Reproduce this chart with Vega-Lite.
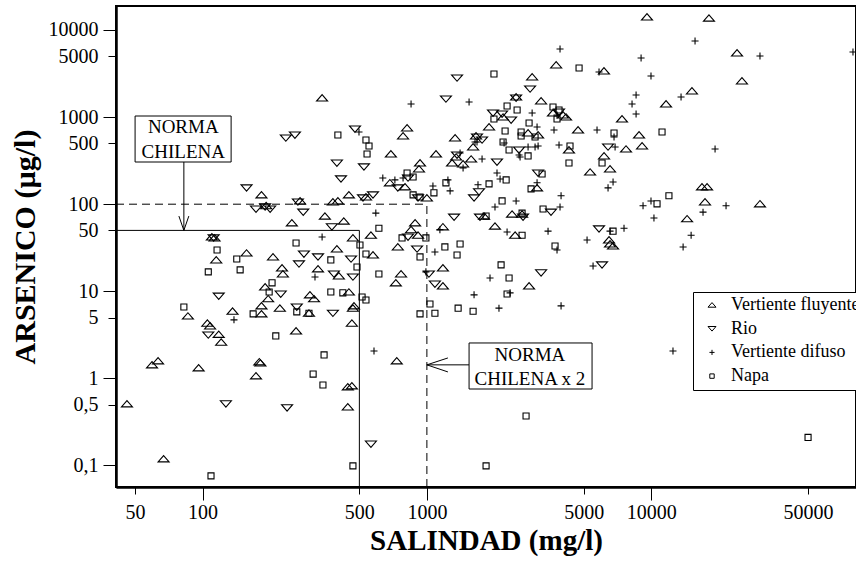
{
  "$schema": "https://vega.github.io/schema/vega-lite/v6.json",
  "width": 740,
  "height": 481,
  "autosize": {"type": "none"},
  "padding": {"left": 116, "top": 6, "right": 0, "bottom": 79},
  "background": "white",
  "config": {
    "view": {"stroke": "black", "strokeWidth": 2},
    "axis": {"grid": false, "domainColor": "black", "domainWidth": 2, "tickColor": "black", "tickWidth": 1, "labelColor": "black", "labelFont": "Liberation Serif", "labelFontSize": 20, "titleFont": "Liberation Serif", "titleFontWeight": "bold", "titleColor": "black", "labelOverlap": false, "labelFlush": false}
  },
  "datasets": {
    "puntos": [
      {"tipo":"Vertiente fluyente","salinidad":183,"arsenico":128},{"tipo":"Vertiente fluyente","salinidad":272,"arsenico":109},{"tipo":"Vertiente fluyente","salinidad":449,"arsenico":128},{"tipo":"Vertiente fluyente","salinidad":381,"arsenico":106},{"tipo":"Vertiente fluyente","salinidad":401,"arsenico":109},{"tipo":"Vertiente fluyente","salinidad":535,"arsenico":121},{"tipo":"Vertiente fluyente","salinidad":192,"arsenico":96},{"tipo":"Vertiente fluyente","salinidad":250,"arsenico":61},{"tipo":"Vertiente fluyente","salinidad":351,"arsenico":73},{"tipo":"Vertiente fluyente","salinidad":426,"arsenico":64},
      {"tipo":"Vertiente fluyente","salinidad":468,"arsenico":41},{"tipo":"Vertiente fluyente","salinidad":563,"arsenico":44},{"tipo":"Vertiente fluyente","salinidad":110,"arsenico":42},{"tipo":"Vertiente fluyente","salinidad":113,"arsenico":41},{"tipo":"Vertiente fluyente","salinidad":157,"arsenico":27.5},{"tipo":"Vertiente fluyente","salinidad":115,"arsenico":22.9},{"tipo":"Vertiente fluyente","salinidad":206,"arsenico":24.8},{"tipo":"Vertiente fluyente","salinidad":397,"arsenico":30.6},{"tipo":"Vertiente fluyente","salinidad":575,"arsenico":26.1},{"tipo":"Vertiente fluyente","salinidad":226,"arsenico":18.5},
      {"tipo":"Vertiente fluyente","salinidad":228,"arsenico":15.8},{"tipo":"Vertiente fluyente","salinidad":327,"arsenico":18.1},{"tipo":"Vertiente fluyente","salinidad":405,"arsenico":15},{"tipo":"Vertiente fluyente","salinidad":190,"arsenico":11.2},{"tipo":"Vertiente fluyente","salinidad":196,"arsenico":8.2},{"tipo":"Vertiente fluyente","salinidad":301,"arsenico":9.1},{"tipo":"Vertiente fluyente","salinidad":314,"arsenico":8.2},{"tipo":"Vertiente fluyente","salinidad":449,"arsenico":9.8},{"tipo":"Vertiente fluyente","salinidad":183,"arsenico":6.8},{"tipo":"Vertiente fluyente","salinidad":221,"arsenico":6.4},
      {"tipo":"Vertiente fluyente","salinidad":298,"arsenico":5.6},{"tipo":"Vertiente fluyente","salinidad":468,"arsenico":6.4},{"tipo":"Vertiente fluyente","salinidad":473,"arsenico":6.8},{"tipo":"Vertiente fluyente","salinidad":86,"arsenico":5.2},{"tipo":"Vertiente fluyente","salinidad":136,"arsenico":5.9},{"tipo":"Vertiente fluyente","salinidad":183,"arsenico":5.5},{"tipo":"Vertiente fluyente","salinidad":105,"arsenico":4.3},{"tipo":"Vertiente fluyente","salinidad":108,"arsenico":4},{"tipo":"Vertiente fluyente","salinidad":118,"arsenico":3.2},{"tipo":"Vertiente fluyente","salinidad":121,"arsenico":2.6},
      {"tipo":"Vertiente fluyente","salinidad":463,"arsenico":4.3},{"tipo":"Vertiente fluyente","salinidad":261,"arsenico":3.5},{"tipo":"Vertiente fluyente","salinidad":59.5,"arsenico":1.43},{"tipo":"Vertiente fluyente","salinidad":63.3,"arsenico":1.59},{"tipo":"Vertiente fluyente","salinidad":96,"arsenico":1.32},{"tipo":"Vertiente fluyente","salinidad":179,"arsenico":1.55},{"tipo":"Vertiente fluyente","salinidad":181,"arsenico":1.5},{"tipo":"Vertiente fluyente","salinidad":173,"arsenico":1.07},{"tipo":"Vertiente fluyente","salinidad":46,"arsenico":0.51},{"tipo":"Vertiente fluyente","salinidad":67,"arsenico":0.119},
      {"tipo":"Vertiente fluyente","salinidad":742,"arsenico":32.3},{"tipo":"Vertiente fluyente","salinidad":767,"arsenico":15.8},{"tipo":"Vertiente fluyente","salinidad":727,"arsenico":12.5},{"tipo":"Vertiente fluyente","salinidad":1179,"arsenico":18.5},{"tipo":"Vertiente fluyente","salinidad":1179,"arsenico":11.5},{"tipo":"Vertiente fluyente","salinidad":2855,"arsenico":11.5},{"tipo":"Vertiente fluyente","salinidad":734,"arsenico":1.59},{"tipo":"Vertiente fluyente","salinidad":444,"arsenico":0.8},{"tipo":"Vertiente fluyente","salinidad":463,"arsenico":0.82},{"tipo":"Vertiente fluyente","salinidad":444,"arsenico":0.47},
      {"tipo":"Vertiente fluyente","salinidad":6555,"arsenico":34.9},{"tipo":"Vertiente fluyente","salinidad":3770,"arsenico":3965},{"tipo":"Vertiente fluyente","salinidad":2946,"arsenico":2888},{"tipo":"Vertiente fluyente","salinidad":341,"arsenico":1657},{"tipo":"Vertiente fluyente","salinidad":2499,"arsenico":1701},{"tipo":"Vertiente fluyente","salinidad":3230,"arsenico":1531},{"tipo":"Vertiente fluyente","salinidad":2186,"arsenico":1002},{"tipo":"Vertiente fluyente","salinidad":4046,"arsenico":1057},{"tipo":"Vertiente fluyente","salinidad":4174,"arsenico":1002},{"tipo":"Vertiente fluyente","salinidad":3650,"arsenico":1114},
      {"tipo":"Vertiente fluyente","salinidad":4721,"arsenico":711},{"tipo":"Vertiente fluyente","salinidad":816,"arsenico":750},{"tipo":"Vertiente fluyente","salinidad":783,"arsenico":607},{"tipo":"Vertiente fluyente","salinidad":691,"arsenico":377},{"tipo":"Vertiente fluyente","salinidad":1098,"arsenico":377},{"tipo":"Vertiente fluyente","salinidad":1893,"arsenico":770},{"tipo":"Vertiente fluyente","salinidad":1656,"arsenico":607},{"tipo":"Vertiente fluyente","salinidad":1607,"arsenico":454},{"tipo":"Vertiente fluyente","salinidad":1336,"arsenico":576},{"tipo":"Vertiente fluyente","salinidad":2826,"arsenico":657},
      {"tipo":"Vertiente fluyente","salinidad":3132,"arsenico":623},{"tipo":"Vertiente fluyente","salinidad":4301,"arsenico":419},{"tipo":"Vertiente fluyente","salinidad":1350,"arsenico":348},{"tipo":"Vertiente fluyente","salinidad":1295,"arsenico":297},{"tipo":"Vertiente fluyente","salinidad":1450,"arsenico":290},{"tipo":"Vertiente fluyente","salinidad":1575,"arsenico":330},{"tipo":"Vertiente fluyente","salinidad":932,"arsenico":297},{"tipo":"Vertiente fluyente","salinidad":922,"arsenico":254},{"tipo":"Vertiente fluyente","salinidad":684,"arsenico":176},{"tipo":"Vertiente fluyente","salinidad":799,"arsenico":158},
      {"tipo":"Vertiente fluyente","salinidad":1000,"arsenico":118},{"tipo":"Vertiente fluyente","salinidad":1798,"arsenico":73},{"tipo":"Vertiente fluyente","salinidad":2012,"arsenico":56},{"tipo":"Vertiente fluyente","salinidad":2398,"arsenico":77},{"tipo":"Vertiente fluyente","salinidad":2657,"arsenico":77},{"tipo":"Vertiente fluyente","salinidad":2474,"arsenico":44},{"tipo":"Vertiente fluyente","salinidad":886,"arsenico":61},{"tipo":"Vertiente fluyente","salinidad":850,"arsenico":51},{"tipo":"Vertiente fluyente","salinidad":913,"arsenico":44},{"tipo":"Vertiente fluyente","salinidad":1179,"arsenico":55},
      {"tipo":"Vertiente fluyente","salinidad":3099,"arsenico":154},{"tipo":"Vertiente fluyente","salinidad":5342,"arsenico":234},{"tipo":"Vertiente fluyente","salinidad":9580,"arsenico":14100},{"tipo":"Vertiente fluyente","salinidad":18100,"arsenico":13700},{"tipo":"Vertiente fluyente","salinidad":24150,"arsenico":5445},{"tipo":"Vertiente fluyente","salinidad":6160,"arsenico":3383},{"tipo":"Vertiente fluyente","salinidad":25400,"arsenico":2600},{"tipo":"Vertiente fluyente","salinidad":15200,"arsenico":1994},{"tipo":"Vertiente fluyente","salinidad":11650,"arsenico":1414},{"tipo":"Vertiente fluyente","salinidad":7413,"arsenico":951},
      {"tipo":"Vertiente fluyente","salinidad":8830,"arsenico":623},{"tipo":"Vertiente fluyente","salinidad":7725,"arsenico":430},{"tipo":"Vertiente fluyente","salinidad":9108,"arsenico":466},{"tipo":"Vertiente fluyente","salinidad":6164,"arsenico":358},{"tipo":"Vertiente fluyente","salinidad":6555,"arsenico":254},{"tipo":"Vertiente fluyente","salinidad":16850,"arsenico":158},{"tipo":"Vertiente fluyente","salinidad":17750,"arsenico":158},{"tipo":"Vertiente fluyente","salinidad":17380,"arsenico":106},{"tipo":"Vertiente fluyente","salinidad":30560,"arsenico":101},{"tipo":"Vertiente fluyente","salinidad":14460,"arsenico":68},
      {"tipo":"Vertiente fluyente","salinidad":6489,"arsenico":38.8},{"tipo":"Vertiente fluyente","salinidad":6762,"arsenico":33.1},
      {"tipo":"Rio","salinidad":235,"arsenico":576},{"tipo":"Rio","salinidad":258,"arsenico":623},{"tipo":"Rio","salinidad":157,"arsenico":154},{"tipo":"Rio","salinidad":173,"arsenico":88},{"tipo":"Rio","salinidad":190,"arsenico":93},{"tipo":"Rio","salinidad":200,"arsenico":88},{"tipo":"Rio","salinidad":397,"arsenico":297},{"tipo":"Rio","salinidad":524,"arsenico":268},{"tipo":"Rio","salinidad":414,"arsenico":195},{"tipo":"Rio","salinidad":519,"arsenico":118},
      {"tipo":"Rio","salinidad":575,"arsenico":128},{"tipo":"Rio","salinidad":281,"arsenico":81},{"tipo":"Rio","salinidad":377,"arsenico":55},{"tipo":"Rio","salinidad":112,"arsenico":41},{"tipo":"Rio","salinidad":283,"arsenico":26.8},{"tipo":"Rio","salinidad":327,"arsenico":24.8},{"tipo":"Rio","salinidad":459,"arsenico":23.5},{"tipo":"Rio","salinidad":269,"arsenico":20.6},{"tipo":"Rio","salinidad":385,"arsenico":15.8},{"tipo":"Rio","salinidad":468,"arsenico":14.6},
      {"tipo":"Rio","salinidad":223,"arsenico":9.3},{"tipo":"Rio","salinidad":118,"arsenico":8.8},{"tipo":"Rio","salinidad":263,"arsenico":6.6},{"tipo":"Rio","salinidad":381,"arsenico":5.6},{"tipo":"Rio","salinidad":106,"arsenico":3.15},{"tipo":"Rio","salinidad":127,"arsenico":0.51},{"tipo":"Rio","salinidad":238,"arsenico":0.46},{"tipo":"Rio","salinidad":904,"arsenico":30.6},{"tipo":"Rio","salinidad":1021,"arsenico":15.8},{"tipo":"Rio","salinidad":1086,"arsenico":12.1},
      {"tipo":"Rio","salinidad":3230,"arsenico":16.3},{"tipo":"Rio","salinidad":563,"arsenico":0.176},{"tipo":"Rio","salinidad":6039,"arsenico":20.1},{"tipo":"Rio","salinidad":1363,"arsenico":2812},{"tipo":"Rio","salinidad":2885,"arsenico":2103},{"tipo":"Rio","salinidad":1216,"arsenico":1614},{"tipo":"Rio","salinidad":2499,"arsenico":1657},{"tipo":"Rio","salinidad":1972,"arsenico":1114},{"tipo":"Rio","salinidad":2164,"arsenico":1085},{"tipo":"Rio","salinidad":2374,"arsenico":926},
      {"tipo":"Rio","salinidad":478,"arsenico":730},{"tipo":"Rio","salinidad":1762,"arsenico":546},{"tipo":"Rio","salinidad":1673,"arsenico":591},{"tipo":"Rio","salinidad":2576,"arsenico":419},{"tipo":"Rio","salinidad":1363,"arsenico":367},{"tipo":"Rio","salinidad":2054,"arsenico":305},{"tipo":"Rio","salinidad":824,"arsenico":200},{"tipo":"Rio","salinidad":742,"arsenico":154},{"tipo":"Rio","salinidad":913,"arsenico":118},{"tipo":"Rio","salinidad":1708,"arsenico":139},
      {"tipo":"Rio","salinidad":1623,"arsenico":118},{"tipo":"Rio","salinidad":3132,"arsenico":228},{"tipo":"Rio","salinidad":1322,"arsenico":71},{"tipo":"Rio","salinidad":1725,"arsenico":71},{"tipo":"Rio","salinidad":2684,"arsenico":71},{"tipo":"Rio","salinidad":3576,"arsenico":81},{"tipo":"Rio","salinidad":824,"arsenico":42},{"tipo":"Rio","salinidad":5855,"arsenico":52},{"tipo":"Rio","salinidad":6423,"arsenico":454},{"tipo":"Rio","salinidad":3883,"arsenico":1144},
      {"tipo":"Rio","salinidad":266,"arsenico":106},
      {"tipo":"Vertiente difuso","salinidad":341,"arsenico":42},{"tipo":"Vertiente difuso","salinidad":317,"arsenico":14.6},{"tipo":"Vertiente difuso","salinidad":138,"arsenico":4.7},{"tipo":"Vertiente difuso","salinidad":581,"arsenico":2.06},{"tipo":"Vertiente difuso","salinidad":592,"arsenico":79},{"tipo":"Vertiente difuso","salinidad":1086,"arsenico":28.3},{"tipo":"Vertiente difuso","salinidad":3804,"arsenico":29.8},{"tipo":"Vertiente difuso","salinidad":990,"arsenico":16.7},{"tipo":"Vertiente difuso","salinidad":1912,"arsenico":14.2},{"tipo":"Vertiente difuso","salinidad":2349,"arsenico":9.6},
      {"tipo":"Vertiente difuso","salinidad":1623,"arsenico":9.1},{"tipo":"Vertiente difuso","salinidad":2096,"arsenico":6.4},{"tipo":"Vertiente difuso","salinidad":3965,"arsenico":6.8},{"tipo":"Vertiente difuso","salinidad":5178,"arsenico":38.8},{"tipo":"Vertiente difuso","salinidad":13880,"arsenico":32.3},{"tipo":"Vertiente difuso","salinidad":5507,"arsenico":19.5},{"tipo":"Vertiente difuso","salinidad":12510,"arsenico":2.06},{"tipo":"Vertiente difuso","salinidad":3923,"arsenico":6052},{"tipo":"Vertiente difuso","salinidad":850,"arsenico":1414},{"tipo":"Vertiente difuso","salinidad":1542,"arsenico":1491},
      {"tipo":"Vertiente difuso","salinidad":2946,"arsenico":1114},{"tipo":"Vertiente difuso","salinidad":3804,"arsenico":1057},{"tipo":"Vertiente difuso","salinidad":3099,"arsenico":770},{"tipo":"Vertiente difuso","salinidad":3688,"arsenico":711},{"tipo":"Vertiente difuso","salinidad":498,"arsenico":674},{"tipo":"Vertiente difuso","salinidad":1673,"arsenico":518},{"tipo":"Vertiente difuso","salinidad":2209,"arsenico":504},{"tipo":"Vertiente difuso","salinidad":2826,"arsenico":454},{"tipo":"Vertiente difuso","salinidad":3132,"arsenico":466},{"tipo":"Vertiente difuso","salinidad":2576,"arsenico":367},
      {"tipo":"Vertiente difuso","salinidad":3883,"arsenico":478},{"tipo":"Vertiente difuso","salinidad":1406,"arsenico":387},{"tipo":"Vertiente difuso","salinidad":1450,"arsenico":261},{"tipo":"Vertiente difuso","salinidad":1762,"arsenico":330},{"tipo":"Vertiente difuso","salinidad":636,"arsenico":200},{"tipo":"Vertiente difuso","salinidad":720,"arsenico":190},{"tipo":"Vertiente difuso","salinidad":783,"arsenico":200},{"tipo":"Vertiente difuso","salinidad":2054,"arsenico":228},{"tipo":"Vertiente difuso","salinidad":1064,"arsenico":162},{"tipo":"Vertiente difuso","salinidad":1269,"arsenico":142},
      {"tipo":"Vertiente difuso","salinidad":1241,"arsenico":190},{"tipo":"Vertiente difuso","salinidad":1690,"arsenico":167},{"tipo":"Vertiente difuso","salinidad":3099,"arsenico":176},{"tipo":"Vertiente difuso","salinidad":3965,"arsenico":125},{"tipo":"Vertiente difuso","salinidad":2499,"arsenico":109},{"tipo":"Vertiente difuso","salinidad":2012,"arsenico":93},{"tipo":"Vertiente difuso","salinidad":3923,"arsenico":93},{"tipo":"Vertiente difuso","salinidad":2278,"arsenico":48},{"tipo":"Vertiente difuso","salinidad":3469,"arsenico":49},{"tipo":"Vertiente difuso","salinidad":1143,"arsenico":51},
      {"tipo":"Vertiente difuso","salinidad":5855,"arsenico":3295},{"tipo":"Vertiente difuso","salinidad":5736,"arsenico":711},{"tipo":"Vertiente difuso","salinidad":15690,"arsenico":7477},{"tipo":"Vertiente difuso","salinidad":30560,"arsenico":5030},{"tipo":"Vertiente difuso","salinidad":79400,"arsenico":5590},{"tipo":"Vertiente difuso","salinidad":9016,"arsenico":4771},{"tipo":"Vertiente difuso","salinidad":9982,"arsenico":2965},{"tipo":"Vertiente difuso","salinidad":13590,"arsenico":1701},{"tipo":"Vertiente difuso","salinidad":8565,"arsenico":1794},{"tipo":"Vertiente difuso","salinidad":8217,"arsenico":1414},
      {"tipo":"Vertiente difuso","salinidad":8565,"arsenico":1085},{"tipo":"Vertiente difuso","salinidad":6830,"arsenico":591},{"tipo":"Vertiente difuso","salinidad":6904,"arsenico":454},{"tipo":"Vertiente difuso","salinidad":19270,"arsenico":430},{"tipo":"Vertiente difuso","salinidad":6762,"arsenico":180},{"tipo":"Vertiente difuso","salinidad":6423,"arsenico":154},{"tipo":"Vertiente difuso","salinidad":9199,"arsenico":96},{"tipo":"Vertiente difuso","salinidad":9982,"arsenico":109},{"tipo":"Vertiente difuso","salinidad":21570,"arsenico":96},{"tipo":"Vertiente difuso","salinidad":17030,"arsenico":81},
      {"tipo":"Vertiente difuso","salinidad":10290,"arsenico":69.5},{"tipo":"Vertiente difuso","salinidad":6555,"arsenico":49},{"tipo":"Vertiente difuso","salinidad":7567,"arsenico":53},{"tipo":"Vertiente difuso","salinidad":15070,"arsenico":44},{"tipo":"Vertiente difuso","salinidad":2603,"arsenico":348},{"tipo":"Vertiente difuso","salinidad":3036,"arsenico":454},{"tipo":"Vertiente difuso","salinidad":2120,"arsenico":195},{"tipo":"Vertiente difuso","salinidad":1639,"arsenico":518},
      {"tipo":"Napa","salinidad":261,"arsenico":35.8},{"tipo":"Napa","salinidad":611,"arsenico":53},{"tipo":"Napa","salinidad":116,"arsenico":29.8},{"tipo":"Napa","salinidad":142,"arsenico":23.5},{"tipo":"Napa","salinidad":503,"arsenico":34},{"tipo":"Napa","salinidad":535,"arsenico":26.8},{"tipo":"Napa","salinidad":373,"arsenico":22.9},{"tipo":"Napa","salinidad":106,"arsenico":16.7},{"tipo":"Napa","salinidad":147,"arsenico":17.6},{"tipo":"Napa","salinidad":488,"arsenico":19},
      {"tipo":"Napa","salinidad":611,"arsenico":15.8},{"tipo":"Napa","salinidad":204,"arsenico":12.5},{"tipo":"Napa","salinidad":198,"arsenico":9.8},{"tipo":"Napa","salinidad":373,"arsenico":9.8},{"tipo":"Napa","salinidad":422,"arsenico":9.6},{"tipo":"Napa","salinidad":514,"arsenico":8.6},{"tipo":"Napa","salinidad":535,"arsenico":7.95},{"tipo":"Napa","salinidad":82.5,"arsenico":6.6},{"tipo":"Napa","salinidad":168,"arsenico":5.5},{"tipo":"Napa","salinidad":263,"arsenico":5.8},
      {"tipo":"Napa","salinidad":298,"arsenico":5.6},{"tipo":"Napa","salinidad":212,"arsenico":3.07},{"tipo":"Napa","salinidad":348,"arsenico":1.86},{"tipo":"Napa","salinidad":109,"arsenico":0.076},{"tipo":"Napa","salinidad":932,"arsenico":24.8},{"tipo":"Napa","salinidad":1203,"arsenico":32.3},{"tipo":"Napa","salinidad":1363,"arsenico":26.1},{"tipo":"Napa","salinidad":1406,"arsenico":34.9},{"tipo":"Napa","salinidad":3727,"arsenico":33.1},{"tipo":"Napa","salinidad":2142,"arsenico":20.1},
      {"tipo":"Napa","salinidad":2325,"arsenico":14.2},{"tipo":"Napa","salinidad":2278,"arsenico":9.3},{"tipo":"Napa","salinidad":1378,"arsenico":6.4},{"tipo":"Napa","salinidad":1607,"arsenico":5.9},{"tipo":"Napa","salinidad":1032,"arsenico":7.15},{"tipo":"Napa","salinidad":1086,"arsenico":5.6},{"tipo":"Napa","salinidad":932,"arsenico":5.5},{"tipo":"Napa","salinidad":311,"arsenico":1.12},{"tipo":"Napa","salinidad":344,"arsenico":0.84},{"tipo":"Napa","salinidad":468,"arsenico":0.099},
      {"tipo":"Napa","salinidad":2768,"arsenico":0.37},{"tipo":"Napa","salinidad":1836,"arsenico":0.099},{"tipo":"Napa","salinidad":50060,"arsenico":0.21},{"tipo":"Napa","salinidad":4770,"arsenico":3663},{"tipo":"Napa","salinidad":1991,"arsenico":3126},{"tipo":"Napa","salinidad":2278,"arsenico":1342},{"tipo":"Napa","salinidad":2525,"arsenico":1206},{"tipo":"Napa","salinidad":1991,"arsenico":951},{"tipo":"Napa","salinidad":2855,"arsenico":855},{"tipo":"Napa","salinidad":3650,"arsenico":1307},
      {"tipo":"Napa","salinidad":3883,"arsenico":1206},{"tipo":"Napa","salinidad":3804,"arsenico":951},{"tipo":"Napa","salinidad":401,"arsenico":623},{"tipo":"Napa","salinidad":535,"arsenico":546},{"tipo":"Napa","salinidad":552,"arsenico":466},{"tipo":"Napa","salinidad":541,"arsenico":377},{"tipo":"Napa","salinidad":2232,"arsenico":693},{"tipo":"Napa","salinidad":2631,"arsenico":674},{"tipo":"Napa","salinidad":2631,"arsenico":607},{"tipo":"Napa","salinidad":3036,"arsenico":591},
      {"tipo":"Napa","salinidad":2186,"arsenico":518},{"tipo":"Napa","salinidad":2325,"arsenico":419},{"tipo":"Napa","salinidad":2826,"arsenico":358},{"tipo":"Napa","salinidad":4346,"arsenico":466},{"tipo":"Napa","salinidad":4301,"arsenico":297},{"tipo":"Napa","salinidad":816,"arsenico":228},{"tipo":"Napa","salinidad":868,"arsenico":205},{"tipo":"Napa","salinidad":2256,"arsenico":190},{"tipo":"Napa","salinidad":3263,"arsenico":222},{"tipo":"Napa","salinidad":1075,"arsenico":135},
      {"tipo":"Napa","salinidad":1216,"arsenico":176},{"tipo":"Napa","salinidad":868,"arsenico":128},{"tipo":"Napa","salinidad":932,"arsenico":121},{"tipo":"Napa","salinidad":1893,"arsenico":171},{"tipo":"Napa","salinidad":2914,"arsenico":150},{"tipo":"Napa","salinidad":2164,"arsenico":109},{"tipo":"Napa","salinidad":1836,"arsenico":73},{"tipo":"Napa","salinidad":2657,"arsenico":79},{"tipo":"Napa","salinidad":3296,"arsenico":88},{"tipo":"Napa","salinidad":2657,"arsenico":44},
      {"tipo":"Napa","salinidad":775,"arsenico":41},{"tipo":"Napa","salinidad":990,"arsenico":41},{"tipo":"Napa","salinidad":6830,"arsenico":657},{"tipo":"Napa","salinidad":11180,"arsenico":674},{"tipo":"Napa","salinidad":6039,"arsenico":297},{"tipo":"Napa","salinidad":12000,"arsenico":125},{"tipo":"Napa","salinidad":10620,"arsenico":101},{"tipo":"Napa","salinidad":6762,"arsenico":49}
    ],
    "solidas": [
      {"x":41.1,"x2":500,"y":50,"y2":50},
      {"x":500,"x2":500,"y":0.0566,"y2":50},
      {"x":82.5,"x2":82.5,"y":305,"y2":50},
      {"x":78.4,"x2":82.5,"y":73,"y2":50},
      {"x":86.8,"x2":82.5,"y":73,"y2":50},
      {"x":1542,"x2":1000,"y":1.43,"y2":1.43},
      {"x":1241,"x2":1000,"y":1.716,"y2":1.43},
      {"x":1241,"x2":1000,"y":1.186,"y2":1.43}
    ],
    "discontinuas": [
      {"x":41.1,"x2":1000,"y":100,"y2":100},
      {"x":1000,"x2":1000,"y":0.0566,"y2":100}
    ],
    "cajas": [
      {"x":50,"x2":134,"y":305,"y2":1029},
      {"x":1542,"x2":5450,"y":0.755,"y2":2.55}
    ],
    "textos": [
      {"x":82,"y":770,"texto":"NORMA"},
      {"x":82,"y":397,"texto":"CHILENA"},
      {"x":2880,"y":1.86,"texto":"NORMA"},
      {"x":2880,"y":0.985,"texto":"CHILENA x 2"}
    ]
  },
  "resolve": {"axis": {"x": "independent", "y": "independent"}},
  "layer": [
    {
      "data": {"name": "discontinuas"},
      "mark": {"type": "rule", "color": "black", "strokeWidth": 1, "strokeDash": [8, 5]},
      "encoding": {
        "x": {"field": "x", "type": "quantitative", "scale": {"type": "log", "domain": [41.1, 81900], "nice": false}, "axis": {"orient": "bottom", "values": [50, 500, 5000, 50000], "tickSize": 7, "labelPadding": 8, "title": null, "format": "~g", "domainWidth": 2}},
        "x2": {"field": "x2"},
        "y": {"field": "y", "type": "quantitative", "scale": {"type": "log", "domain": [0.0566, 18860], "nice": false}, "axis": {"orient": "left", "values": [0.5, 5, 50, 500, 5000], "tickSize": 8, "labelPadding": 10, "title": null, "format": "~g", "labelExpr": "replace(datum.label, '.', ',')"}},
        "y2": {"field": "y2"}
      }
    },
    {
      "data": {"name": "solidas"},
      "mark": {"type": "rule", "color": "black", "strokeWidth": 1},
      "encoding": {
        "x": {"field": "x", "type": "quantitative", "scale": {"type": "log", "domain": [41.1, 81900], "nice": false}, "axis": null},
        "x2": {"field": "x2"},
        "y": {"field": "y", "type": "quantitative", "scale": {"type": "log", "domain": [0.0566, 18860], "nice": false}, "axis": null},
        "y2": {"field": "y2"}
      }
    },
    {
      "data": {"name": "cajas"},
      "mark": {"type": "rect", "fill": "white", "stroke": "black", "strokeWidth": 1},
      "encoding": {
        "x": {"field": "x", "type": "quantitative", "scale": {"type": "log", "domain": [41.1, 81900], "nice": false}, "axis": null},
        "x2": {"field": "x2"},
        "y": {"field": "y", "type": "quantitative", "scale": {"type": "log", "domain": [0.0566, 18860], "nice": false}, "axis": null},
        "y2": {"field": "y2"}
      }
    },
    {
      "data": {"name": "textos"},
      "mark": {"type": "text", "font": "Liberation Serif", "fontSize": 19, "color": "black", "align": "center", "baseline": "middle"},
      "encoding": {
        "x": {"field": "x", "type": "quantitative", "scale": {"type": "log", "domain": [41.1, 81900], "nice": false}, "axis": null},
        "y": {"field": "y", "type": "quantitative", "scale": {"type": "log", "domain": [0.0566, 18860], "nice": false}, "axis": null},
        "text": {"field": "texto"}
      }
    },
    {
      "data": {"name": "puntos"},
      "mark": {"type": "point", "filled": false, "color": "black", "strokeWidth": 1.1, "size": 121, "opacity": 1},
      "encoding": {
        "x": {"field": "salinidad", "type": "quantitative", "scale": {"type": "log", "domain": [41.1, 81900], "nice": false}, "axis": {"orient": "bottom", "values": [100, 1000, 10000], "tickSize": 13, "labelPadding": 2, "format": "~g", "title": "SALINDAD (mg/l)", "titleFontSize": 29, "titlePadding": 4}},
        "y": {"field": "arsenico", "type": "quantitative", "scale": {"type": "log", "domain": [0.0566, 18860], "nice": false}, "axis": {"orient": "left", "values": [0.1, 1, 10, 100, 1000, 10000], "tickSize": 13, "labelPadding": 5, "format": "~g", "labelExpr": "replace(datum.label, '.', ',')", "title": "ARSENICO (µg/l)", "titleFontSize": 30, "titlePadding": 8}},
        "shape": {
          "field": "tipo", "type": "nominal",
          "scale": {"domain": ["Vertiente fluyente", "Rio", "Vertiente difuso", "Napa"], "range": ["M-1,0.55L1,0.55L0,-0.6Z", "M-1,-0.55L1,-0.55L0,0.6Z", "M-0.64,0L0.64,0M0,-0.64L0,0.64", "M-0.55,-0.55L0.55,-0.55L0.55,0.55L-0.55,0.55Z"]},
          "legend": {"title": null, "orient": "none", "legendX": 577, "legendY": 286, "strokeColor": "black", "fillColor": "white", "padding": 4, "cornerRadius": 0, "labelFont": "Liberation Serif", "labelFontSize": 18, "labelColor": "black", "symbolSize": 64, "symbolStrokeColor": "black", "symbolStrokeWidth": 1, "symbolFillColor": "transparent", "rowPadding": 5.7, "labelOffset": 10, "symbolOffset": 6}
        }
      }
    }
  ]
}
